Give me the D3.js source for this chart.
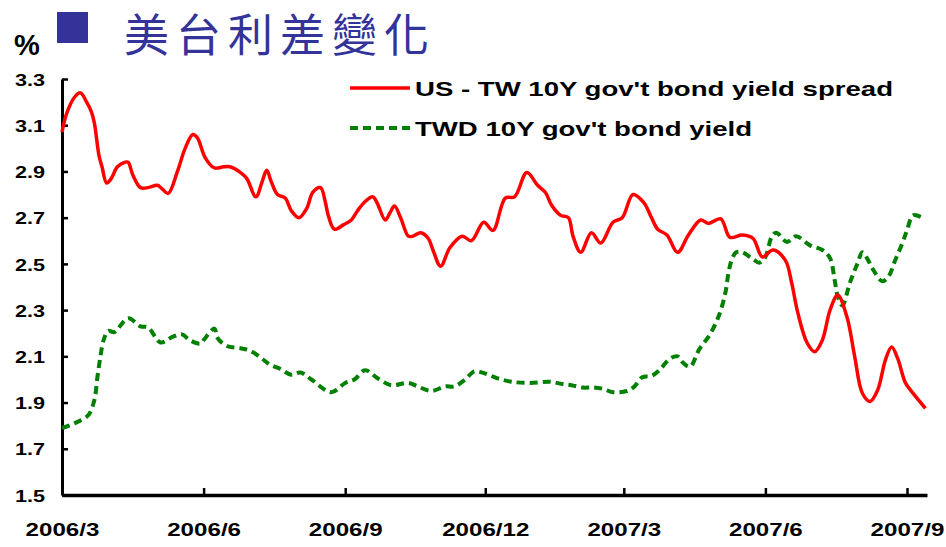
<!DOCTYPE html>
<html>
<head>
<meta charset="utf-8">
<script src="https://cdn.jsdelivr.net/npm/d3@7"></script>
<style>
  body { margin: 0; background: #fff; }
  svg { display: block; }
  text { font-family: Arial, 'Liberation Sans', sans-serif; font-weight: bold; fill: #000; }
</style>
</head>
<body>
<div id="chart"></div>
<script>
const spreadDates = [
  '2006-03-01', '2006-03-04', '2006-03-09', '2006-03-13', '2006-03-17', '2006-03-20', '2006-03-22',
  '2006-03-25', '2006-03-27', '2006-03-30', '2006-04-02', '2006-04-06', '2006-04-11', '2006-04-13',
  '2006-04-16', '2006-04-21', '2006-04-26', '2006-05-02', '2006-05-05', '2006-05-09', '2006-05-15',
  '2006-05-20', '2006-05-25', '2006-05-28', '2006-06-02', '2006-06-08', '2006-06-14', '2006-06-18',
  '2006-06-25', '2006-06-29', '2006-07-05', '2006-07-09', '2006-07-12', '2006-07-15', '2006-07-19',
  '2006-07-24', '2006-07-28', '2006-08-02', '2006-08-07', '2006-08-11', '2006-08-16', '2006-08-19',
  '2006-08-21', '2006-08-25', '2006-08-31', '2006-09-05', '2006-09-09', '2006-09-14', '2006-09-19',
  '2006-09-22', '2006-09-27', '2006-09-30', '2006-10-03', '2006-10-07', '2006-10-12', '2006-10-15',
  '2006-10-20', '2006-10-25', '2006-10-28', '2006-11-02', '2006-11-08', '2006-11-16', '2006-11-22',
  '2006-11-30', '2006-12-06', '2006-12-14', '2006-12-20', '2006-12-28', '2007-01-04', '2007-01-09',
  '2007-01-13', '2007-01-19', '2007-01-24', '2007-01-27', '2007-02-01', '2007-02-08', '2007-02-14',
  '2007-02-22', '2007-02-28', '2007-03-07', '2007-03-14', '2007-03-19', '2007-03-23', '2007-03-29',
  '2007-04-05', '2007-04-12', '2007-04-20', '2007-04-25', '2007-05-03', '2007-05-09', '2007-05-17',
  '2007-05-24', '2007-05-30', '2007-06-06', '2007-06-14', '2007-06-18', '2007-06-22', '2007-06-28',
  '2007-07-03', '2007-07-08', '2007-07-13', '2007-07-18', '2007-07-24', '2007-07-29', '2007-08-03',
  '2007-08-08', '2007-08-13', '2007-08-18', '2007-08-22', '2007-08-26', '2007-08-31', '2007-09-05',
  '2007-09-13'
]
const spreadValues = [
  3.07, 3.15, 3.22, 3.24, 3.20, 3.16, 3.11,
  2.97, 2.92, 2.85, 2.87, 2.92, 2.94, 2.94,
  2.885, 2.83, 2.83, 2.84, 2.825, 2.805, 2.90,
  3.00, 3.06, 3.045, 2.96, 2.915, 2.92, 2.92,
  2.895, 2.87, 2.79, 2.855, 2.905, 2.855, 2.80,
  2.785, 2.73, 2.70, 2.74, 2.81, 2.83, 2.77,
  2.71, 2.65, 2.67, 2.69, 2.73, 2.77, 2.79,
  2.76, 2.69, 2.72, 2.75, 2.70, 2.62, 2.62,
  2.635, 2.61, 2.56, 2.49, 2.57, 2.62, 2.60,
  2.68, 2.645, 2.785, 2.79, 2.895, 2.84, 2.81,
  2.755, 2.71, 2.70, 2.62, 2.55, 2.635, 2.59,
  2.68, 2.70, 2.80, 2.765, 2.70, 2.65, 2.625,
  2.55, 2.625, 2.69, 2.675, 2.695, 2.615, 2.625,
  2.61, 2.53, 2.56, 2.515, 2.42, 2.29, 2.16,
  2.12, 2.17, 2.30, 2.365, 2.27, 2.10, 1.94,
  1.905, 1.955, 2.085, 2.14, 2.09, 1.985, 1.94,
  1.875
]
const twdDates = [
  '2006-03-01', '2006-03-09', '2006-03-18', '2006-03-22', '2006-03-24', '2006-03-26', '2006-03-28',
  '2006-03-31', '2006-04-04', '2006-04-13', '2006-04-21', '2006-04-26', '2006-05-04', '2006-05-12',
  '2006-05-18', '2006-05-23', '2006-05-30', '2006-06-01', '2006-06-08', '2006-06-10', '2006-06-16',
  '2006-06-25', '2006-07-01', '2006-07-08', '2006-07-14', '2006-07-21', '2006-07-28', '2006-08-03',
  '2006-08-10', '2006-08-23', '2006-09-01', '2006-09-07', '2006-09-14', '2006-09-22', '2006-10-01',
  '2006-10-12', '2006-10-18', '2006-10-27', '2006-11-05', '2006-11-11', '2006-11-18', '2006-11-24',
  '2006-12-01', '2006-12-09', '2006-12-18', '2006-12-30', '2007-01-12', '2007-01-20', '2007-01-26',
  '2007-02-02', '2007-02-09', '2007-02-15', '2007-02-22', '2007-03-03', '2007-03-08', '2007-03-13',
  '2007-03-19', '2007-03-24', '2007-03-31', '2007-04-05', '2007-04-08', '2007-04-13', '2007-04-19',
  '2007-04-26', '2007-05-02', '2007-05-06', '2007-05-08', '2007-05-10', '2007-05-13', '2007-05-17',
  '2007-05-24', '2007-05-28', '2007-06-01', '2007-06-05', '2007-06-08', '2007-06-15', '2007-06-21',
  '2007-06-30', '2007-07-08', '2007-07-13', '2007-07-16', '2007-07-18', '2007-07-21', '2007-07-26',
  '2007-07-31', '2007-08-03', '2007-08-06', '2007-08-10', '2007-08-16', '2007-08-20', '2007-08-24',
  '2007-08-29', '2007-09-01', '2007-09-05', '2007-09-11'
]
const twdValues = [
  1.79, 1.81, 1.845, 1.91, 2.01, 2.10, 2.17,
  2.21, 2.205, 2.265, 2.23, 2.225, 2.16, 2.185,
  2.195, 2.17, 2.155, 2.17, 2.22, 2.18, 2.145,
  2.135, 2.125, 2.095, 2.065, 2.045, 2.02, 2.03,
  2.00, 1.945, 1.985, 2.00, 2.04, 2.005, 1.975,
  1.985, 1.97, 1.95, 1.97, 1.97, 2.00, 2.035,
  2.025, 2.005, 1.99, 1.985, 1.99, 1.98, 1.975,
  1.965, 1.965, 1.96, 1.945, 1.95, 1.97, 2.01,
  2.015, 2.04, 2.09, 2.10, 2.075, 2.055, 2.13,
  2.195, 2.28, 2.375, 2.46, 2.515, 2.55, 2.55,
  2.52, 2.505, 2.53, 2.615, 2.635, 2.595, 2.62,
  2.58, 2.56, 2.525, 2.43, 2.36, 2.32, 2.42,
  2.505, 2.55, 2.525, 2.475, 2.425, 2.445, 2.51,
  2.59, 2.645, 2.71, 2.70
]
const xTickDates = ['2006-03-01', '2006-06-01', '2006-09-01', '2006-12-01', '2007-03-01', '2007-06-01', '2007-09-01']
const xTickLabels = ['2006/3', '2006/6', '2006/9', '2006/12', '2007/3', '2007/6', '2007/9']
const yTicks = [1.5, 1.7, 1.9, 2.1, 2.3, 2.5, 2.7, 2.9, 3.1, 3.3]
const seriesNames = ["US - TW 10Y gov't bond yield spread", "TWD 10Y gov't bond yield"]
const title = '美台利差變化'

const svgWidth = 946
const svgHeight = 547
const plot = {left: 62, right: 927, top: 79, bottom: 495}
const stretchX = 1.27

// the source image is a bit wider than tall, so text glyphs get widened
function stretch(sel, k) {
  sel.each(function() {
    const w = this.getComputedTextLength()
    d3.select(this).attr('textLength', w * k).attr('lengthAdjust', 'spacingAndGlyphs')
  })
}

const svg = d3.select('#chart').append('svg')
  .attr('width', svgWidth)
  .attr('height', svgHeight)

svg.append('rect')
  .attr('width', svgWidth)
  .attr('height', svgHeight)
  .attr('fill', '#fff')

const x = d3.scaleUtc()
  .domain([new Date('2006-03-01'), new Date('2007-09-14')])
  .range([plot.left, plot.right])
const y = d3.scaleLinear()
  .domain([1.5, 3.3])
  .range([plot.bottom, plot.top])

// title
svg.append('rect')
  .attr('x', 57).attr('y', 12)
  .attr('width', 31).attr('height', 31)
  .attr('fill', '#333399')

svg.append('text')
  .attr('x', 124)
  .attr('y', 52)
  .attr('font-size', 45)
  .attr('letter-spacing', 7)
  .style('font-family', "'Noto Sans CJK TC', 'Noto Sans CJK SC', sans-serif")
  .style('font-weight', 'normal')
  .style('fill', '#333399')
  .text(title)

svg.append('text')
  .attr('x', 14)
  .attr('y', 55)
  .attr('font-size', 29)
  .text('%')

// axes
const yAxis = d3.axisLeft(y)
  .tickValues(yTicks)
  .tickFormat(d3.format('.1f'))
  .tickSize(-6)
  .tickSizeOuter(0)
  .tickPadding(17)

const gy = svg.append('g')
  .attr('transform', 'translate(' + plot.left + ',0)')
  .call(yAxis)
gy.select('.domain').attr('stroke', '#000').attr('stroke-width', 3)
gy.selectAll('.tick line').attr('stroke', '#000').attr('stroke-width', 2.5)
gy.selectAll('.tick text')
  .attr('font-size', 17)
  .attr('dy', '0.36em')
  .style('font-family', 'Arial, "Liberation Sans", sans-serif')
  .style('font-weight', 'bold')
  .call(stretch, stretchX)

const xAxis = d3.axisBottom(x)
  .tickValues(xTickDates.map(d => new Date(d)))
  .tickFormat((d, i) => xTickLabels[i])
  .tickSize(-7)
  .tickSizeOuter(0)
  .tickPadding(28)

const gx = svg.append('g')
  .attr('transform', 'translate(0,' + plot.bottom + ')')
  .call(xAxis)
gx.select('.domain').attr('stroke', '#000').attr('stroke-width', 3.5)
gx.selectAll('.tick line').attr('stroke', '#000').attr('stroke-width', 2.5)
gx.selectAll('.tick text')
  .attr('font-size', 19)
  .style('font-family', 'Arial, "Liberation Sans", sans-serif')
  .style('font-weight', 'bold')
  .call(stretch, stretchX)

// lines
const line = d3.line()
  .x(d => x(d.date))
  .y(d => y(d.value))
  .curve(d3.curveCatmullRom.alpha(0.5))

const spread = spreadDates.map((d, i) => ({date: new Date(d), value: spreadValues[i]}))
const twd = twdDates.map((d, i) => ({date: new Date(d), value: twdValues[i]}))

svg.append('path')
  .datum(twd)
  .attr('fill', 'none')
  .attr('stroke', '#008000')
  .attr('stroke-width', 4)
  .attr('stroke-dasharray', '8,5')
  .attr('d', line)

svg.append('path')
  .datum(spread)
  .attr('fill', 'none')
  .attr('stroke', '#ff0000')
  .attr('stroke-width', 3.5)
  .attr('stroke-linejoin', 'round')
  .attr('d', line)

// legend
const legend = svg.append('g')
const legendItems = [
  {name: seriesNames[0], color: '#ff0000', dash: null, width: 3.5, y: 88, len: 478},
  {name: seriesNames[1], color: '#008000', dash: '8,5', width: 4, y: 128, len: 337}
]
legendItems.forEach(item => {
  legend.append('line')
    .attr('x1', 350).attr('x2', 410)
    .attr('y1', item.y).attr('y2', item.y)
    .attr('stroke', item.color)
    .attr('stroke-width', item.width)
    .attr('stroke-dasharray', item.dash)
  legend.append('text')
    .attr('x', 415)
    .attr('y', item.y + 8)
    .attr('font-size', 21)
    .attr('textLength', item.len)
    .attr('lengthAdjust', 'spacingAndGlyphs')
    .text(item.name)
})
</script>
</body>
</html>
